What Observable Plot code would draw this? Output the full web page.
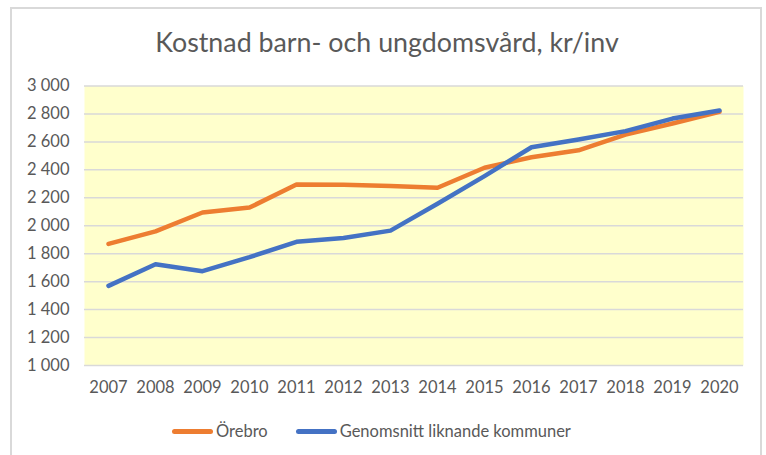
<!DOCTYPE html>
<html>
<head>
<meta charset="utf-8">
<script src="https://cdn.jsdelivr.net/npm/d3@7"></script>
<script src="https://cdn.jsdelivr.net/npm/@observablehq/plot@0.6"></script>
<style>
  html, body { margin: 0; padding: 0; background: #fff; }
  body { width: 766px; height: 455px; position: relative; overflow: hidden; font-family: Lato, "Open Sans", sans-serif; }
  #frame { position: absolute; left: 10px; top: 7px; width: 752px; height: 460px; border: 2px solid #d9d9d9; box-sizing: border-box; }
  #title { position: absolute; left: 4px; width: 766px; top: 25px; text-align: center; font-size: 26.8px; color: #595959; line-height: 34px; }
  #chart { position: absolute; left: 0; top: 70px; }
  #legend { position: absolute; left: 172px; top: 421px; display: flex; align-items: center; font-size: 16.5px; color: #595959; }
  .item { display: flex; align-items: center; margin-right: 28px; }
  .sw { width: 41px; height: 5px; border-radius: 3px; margin-right: 3px; }
</style>
</head>
<body>
<div id="frame"></div>
<div id="title">Kostnad barn- och ungdomsvård, kr/inv</div>
<div id="chart"></div>
<div id="legend"></div>
<script>
const years = ["2007","2008","2009","2010","2011","2012","2013","2014","2015","2016","2017","2018","2019","2020"];
const orebro = [1870, 1960, 2095, 2130, 2295, 2293, 2285, 2272, 2415, 2490, 2540, 2652, 2732, 2815];
const genomsnitt = [1570, 1725, 1675, 1775, 1885, 1912, 1965, 2157, 2355, 2562, 2617, 2677, 2767, 2825];
const seriesNames = ["Örebro", "Genomsnitt liknande kommuner"];
const seriesColors = ["#ED7D31", "#4472C4"];
const yTicks = [1000, 1200, 1400, 1600, 1800, 2000, 2200, 2400, 2600, 2800, 3000];

const rows = [];
years.forEach((y, i) => {
  rows.push({year: y, value: orebro[i], series: seriesNames[0]});
  rows.push({year: y, value: genomsnitt[i], series: seriesNames[1]});
});

const fmt = d => d3.format(",")(d).replace(",", "\u00a0");

const plot = Plot.plot({
  width: 766,
  height: 330,
  marginLeft: 84,
  marginRight: 23,
  marginTop: 15.5,
  marginBottom: 35,
  style: { fontFamily: "Lato, 'Open Sans', sans-serif", fontSize: "16.5px", color: "#595959", background: "transparent" },
  x: { type: "point", domain: years, padding: 0.5, label: null, tickSize: 0, tickPadding: 16 },
  y: { domain: [1000, 3000], ticks: yTicks, tickFormat: fmt, label: null, tickSize: 0, tickPadding: 15 },
  color: { domain: seriesNames, range: seriesColors },
  marks: [
    Plot.frame({ fill: "#FFFFCC", stroke: null }),
    Plot.gridY(yTicks, { stroke: "#d9d9d9", strokeOpacity: 1, strokeWidth: 1.5 }),
    Plot.axisX({ tickSize: 0, tickPadding: 16, fill: "#595959", fontSize: 16.5, label: null }),
    Plot.axisY(yTicks, { tickSize: 0, tickPadding: 15, fill: "#595959", fontSize: 16.5, tickFormat: fmt, label: null }),
    Plot.line(rows, { x: "year", y: "value", z: "series", stroke: "series", strokeWidth: 4.5, strokeLinejoin: "round", strokeLinecap: "round" })
  ]
});
document.getElementById("chart").appendChild(plot);

const legend = document.getElementById("legend");
seriesNames.forEach((n, i) => {
  const it = document.createElement("div");
  it.className = "item";
  const sw = document.createElement("div");
  sw.className = "sw";
  sw.style.background = seriesColors[i];
  const t = document.createElement("span");
  t.textContent = n;
  it.appendChild(sw); it.appendChild(t);
  legend.appendChild(it);
});
</script>
</body>
</html>
